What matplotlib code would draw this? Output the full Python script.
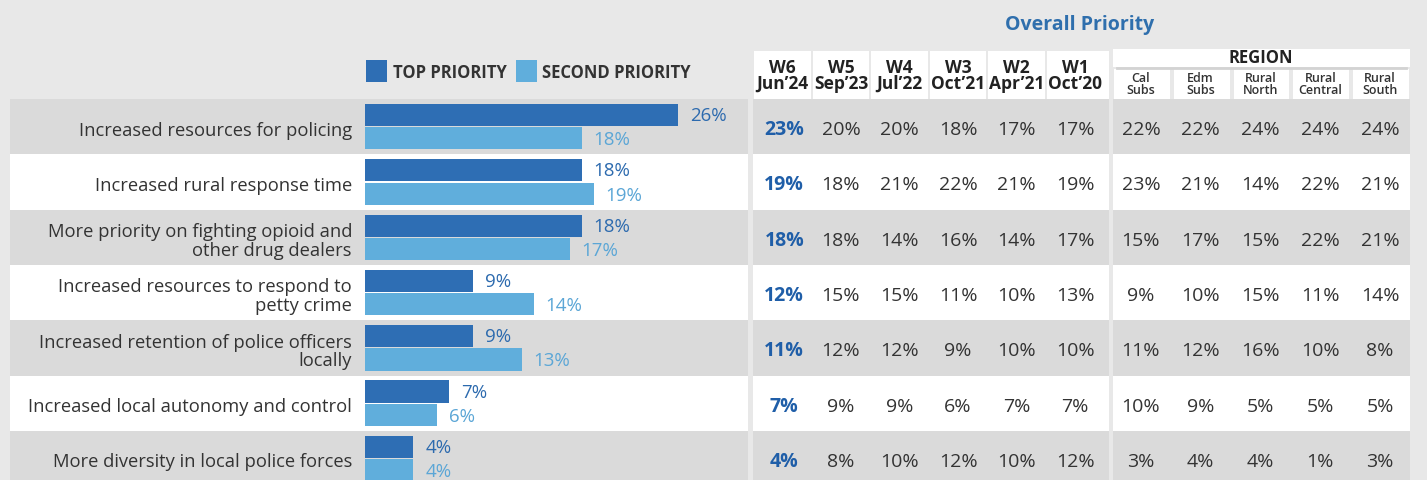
import matplotlib
matplotlib.use("Agg")
import matplotlib.pyplot as plt
from matplotlib.patches import Rectangle

# ---------------- data ----------------
categories = [
    "Increased resources for policing",
    "Increased rural response time",
    "More priority on fighting opioid and\nother drug dealers",
    "Increased resources to respond to\npetty crime",
    "Increased retention of police officers\nlocally",
    "Increased local autonomy and control",
    "More diversity in local police forces",
]
top_priority = [26, 18, 18, 9, 9, 7, 4]
second_priority = [18, 19, 17, 14, 13, 6, 4]

wave_labels = ["W6\nJun\u201924", "W5\nSep\u201923", "W4\nJul\u201922",
               "W3\nOct\u201921", "W2\nApr\u201921", "W1\nOct\u201920"]
w6 = [23, 19, 18, 12, 11, 7, 4]
w5 = [20, 18, 18, 15, 12, 9, 8]
w4 = [20, 21, 14, 15, 12, 9, 10]
w3 = [18, 22, 16, 11, 9, 6, 12]
w2 = [17, 21, 14, 10, 10, 7, 10]
w1 = [17, 19, 17, 13, 10, 7, 12]

region_labels = ["Cal\nSubs", "Edm\nSubs", "Rural\nNorth", "Rural\nCentral", "Rural\nSouth"]
cal_subs = [22, 23, 15, 9, 11, 10, 3]
edm_subs = [22, 21, 17, 10, 12, 9, 4]
rural_north = [24, 14, 15, 15, 16, 5, 4]
rural_central = [24, 22, 22, 11, 10, 5, 1]
rural_south = [24, 21, 21, 14, 8, 5, 3]

legend_labels = ["TOP PRIORITY", "SECOND PRIORITY"]
title = "Overall Priority"
region_title = "REGION"

# ---------------- style ----------------
W, H = 1427, 481
FONT = "Open Sans"
C_TOP = "#2e6eb4"
C_SEC = "#60aedc"
C_TOP_TXT = "#2c6aae"
C_SEC_TXT = "#5ba6d6"
C_BOLD = "#1f5ea8"
C_TXT = "#333333"
C_BG = "#e8e8e8"
C_GREY = "#dadada"
C_WHITE = "#ffffff"

plt.rcParams["font.family"] = [FONT, "DejaVu Sans"]

fig = plt.figure(figsize=(W / 100, H / 100), dpi=100, facecolor=C_BG)
bg = fig.add_axes([0, 0, 1, 1])
bg.set_xlim(0, W)
bg.set_ylim(H, 0)
bg.axis("off")
bg.set_facecolor(C_BG)

row_top0 = 100
pitch = 55.3
n = len(categories)

wave_x0, wave_w = 753, 58.6
wave_end = 1109
reg_x0, reg_w = 1111, 59.8
segments = [(10, 748), (753, wave_end), (reg_x0 + 2, reg_x0 + 5 * reg_w)]

# row bands
for i in range(n):
    y0 = row_top0 + pitch * i
    col = C_GREY if i % 2 == 0 else C_WHITE
    for a, b in segments:
        bg.add_patch(Rectangle((a, y0), b - a, pitch, facecolor=col, edgecolor="none", zorder=0))

# header boxes
for j, lab in enumerate(wave_labels):
    x0 = wave_x0 + j * wave_w
    x1 = wave_end if j == len(wave_labels) - 1 else x0 + wave_w - 1
    bg.add_patch(Rectangle((x0 + 1, 52), x1 - x0 - 1, 48, facecolor=C_WHITE, edgecolor="none", zorder=0))
    cx = x0 + wave_w / 2
    l1, l2 = lab.split("\n")
    bg.text(cx, 68, l1, ha="center", va="center", fontsize=12.5, fontweight="bold", color="#222222")
    bg.text(cx, 84, l2, ha="center", va="center", fontsize=12.5, fontweight="bold", color="#222222")

bg.add_patch(Rectangle((reg_x0 + 2, 50), 5 * reg_w - 2, 18, facecolor=C_WHITE, edgecolor="none", zorder=0))
bg.plot([reg_x0 + 6, reg_x0 + 5 * reg_w - 4], [68.5, 68.5], color="#d3d3d3", lw=2, zorder=1)
bg.text(reg_x0 + 2.5 * reg_w, 58, region_title, ha="center", va="center", fontsize=12,
        fontweight="bold", color="#222222")
for j, lab in enumerate(region_labels):
    x0 = reg_x0 + j * reg_w
    bg.add_patch(Rectangle((x0 + 3, 70), reg_w - 4, 30, facecolor=C_WHITE, edgecolor="none", zorder=0))
    cx = x0 + reg_w / 2
    l1, l2 = lab.split("\n")
    bg.text(cx, 78, l1, ha="center", va="center", fontsize=9, fontweight="semibold", color="#333333")
    bg.text(cx, 90, l2, ha="center", va="center", fontsize=9, fontweight="semibold", color="#333333")

bg.text(1080, 25, title, ha="center", va="center", fontsize=14, fontweight="bold", color="#2f6fad")

# table values
wave_cols = [w6, w5, w4, w3, w2, w1]
region_cols = [cal_subs, edm_subs, rural_north, rural_central, rural_south]
for i in range(n):
    yc = row_top0 + pitch * (i + 0.5) + 2.5
    for j, col in enumerate(wave_cols):
        cx = wave_x0 + (j + 0.5) * wave_w
        if j == 0:
            bg.text(cx + 2, yc, f"{col[i]}%", ha="center", va="center", fontsize=14,
                    fontweight="bold", color=C_BOLD)
        else:
            bg.text(cx, yc, f"{col[i]}%", ha="center", va="center", fontsize=14, color=C_TXT)
    for j, col in enumerate(region_cols):
        cx = reg_x0 + (j + 0.5) * reg_w
        bg.text(cx, yc, f"{col[i]}%", ha="center", va="center", fontsize=14, color=C_TXT)

# category labels
for i, cat in enumerate(categories):
    yc = row_top0 + pitch * (i + 0.5) + 3
    bg.text(352, yc, cat, ha="right", va="center", fontsize=13.2, color=C_TXT, linespacing=1.05)

# legend
bg.add_patch(Rectangle((366, 61), 21, 22, facecolor=C_TOP, edgecolor="none"))
bg.text(393, 73, legend_labels[0], ha="left", va="center", fontsize=12, fontweight="bold", color="#333333")
bg.add_patch(Rectangle((516, 61), 21, 22, facecolor=C_SEC, edgecolor="none"))
bg.text(542, 73, legend_labels[1], ha="left", va="center", fontsize=12, fontweight="bold", color="#333333")

# ---------------- bars ----------------
px_per_pct = 12.04
ax_left, ax_right = 365, 745
ax_top = row_top0
ax = fig.add_axes([ax_left / W, 0, (ax_right - ax_left) / W, (H - ax_top) / H])
ax.set_xlim(0, (ax_right - ax_left) / px_per_pct)
rows_visible = (H - ax_top) / pitch
ax.set_ylim(-0.5 + rows_visible, -0.5)
ax.axis("off")
ax.patch.set_alpha(0)

ypos = list(range(n))
bh = 0.4
off = 0.21
ax.barh([y - off for y in ypos], top_priority, height=bh, color=C_TOP, left=0)
ax.barh([y + off for y in ypos], second_priority, height=bh, color=C_SEC, left=0)
for y, v in zip(ypos, top_priority):
    ax.annotate(f"{v}%", (v, y - off), xytext=(12, 0), textcoords="offset pixels",
                ha="left", va="center", fontsize=13.5, color=C_TOP_TXT, annotation_clip=False)
for y, v in zip(ypos, second_priority):
    ax.annotate(f"{v}%", (v, y + off), xytext=(12, -1), textcoords="offset pixels",
                ha="left", va="center", fontsize=13.5, color=C_SEC_TXT, annotation_clip=False)

fig.savefig("out.png", dpi=100, facecolor=C_BG)
